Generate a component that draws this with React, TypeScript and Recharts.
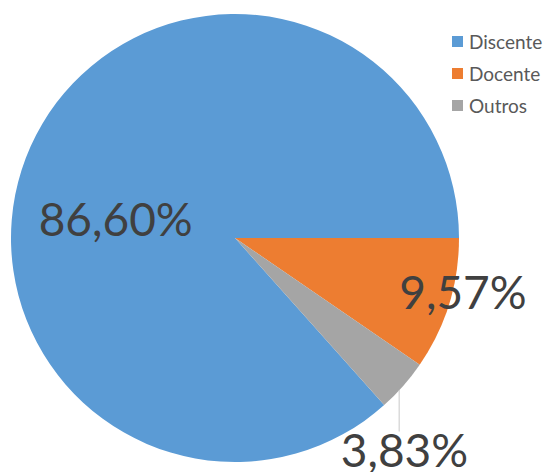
import React from "react";
import { PieChart, Pie, Cell, Legend } from "recharts";

const categories = ["Discente", "Docente", "Outros"];
const shares = [86.6, 9.57, 3.83];
const colors = ["#5B9BD5", "#ED7D31", "#A5A5A5"];

const chartData = categories.map((name, i) => ({ name, value: shares[i] }));

// label placement (radius factor, angle in degrees) — mimics Excel "best fit"
const labelPos = [
  { r: 0.54, a: 170.5 },
  { r: 1.045, a: -13.1 },
  { r: 1.21, a: -51.3 },
];

const RAD = Math.PI / 180;

const fmt = (v: number) => v.toFixed(2).replace(".", ",") + "%";

function renderLabel(props: any) {
  const { cx, cy, outerRadius, index } = props;
  const p = labelPos[index];
  const x = cx + outerRadius * p.r * Math.cos(p.a * RAD);
  const y = cy - outerRadius * p.r * Math.sin(p.a * RAD);
  return (
    <text
      x={x}
      y={y}
      textAnchor="middle"
      dominantBaseline="central"
      fill="#404040"
      fontSize={46}
      fontFamily="Lato, 'Open Sans', sans-serif"
    >
      {fmt(shares[index])}
    </text>
  );
}

function renderLabelLine(props: any) {
  const { cx, cy, outerRadius, midAngle, index } = props;
  if (index !== 2) return <g />;
  const sx = cx + outerRadius * Math.cos(-midAngle * RAD);
  const sy = cy + outerRadius * Math.sin(-midAngle * RAD);
  const p = labelPos[index];
  const ly = cy - outerRadius * p.r * Math.sin(p.a * RAD);
  return <line x1={sx - 4} y1={sy + 4} x2={sx - 4} y2={ly - 18} stroke="#C8C8C8" strokeWidth={1} />;
}

function LegendBox() {
  return (
    <div style={{ fontFamily: "Lato, 'Open Sans', sans-serif", fontSize: 19, color: "#595959" }}>
      {categories.map((c, i) => (
        <div key={c} style={{ display: "flex", alignItems: "center", height: 32 }}>
          <span style={{ width: 11, height: 11, background: colors[i], marginRight: 6, display: "inline-block" }} />
          {c}
        </div>
      ))}
    </div>
  );
}

export default function App() {
  return (
    <div style={{ position: "absolute", left: 0, top: 0, background: "#fff" }}>
      <PieChart width={553} height={472} margin={{ top: 0, right: 0, bottom: 0, left: 0 }}>
        <Pie
          data={chartData}
          dataKey="value"
          nameKey="name"
          cx={235}
          cy={238}
          outerRadius={224}
          startAngle={311.76}
          endAngle={-48.24}
          stroke="none"
          label={renderLabel}
          labelLine={renderLabelLine}
          isAnimationActive={false}
        >
          {chartData.map((d, i) => (
            <Cell key={d.name} fill={colors[i]} />
          ))}
        </Pie>
        <Legend
          content={() => <LegendBox />}
          wrapperStyle={{ position: "absolute", left: 452, top: 25, width: 101 }}
        />
      </PieChart>
    </div>
  );
}
